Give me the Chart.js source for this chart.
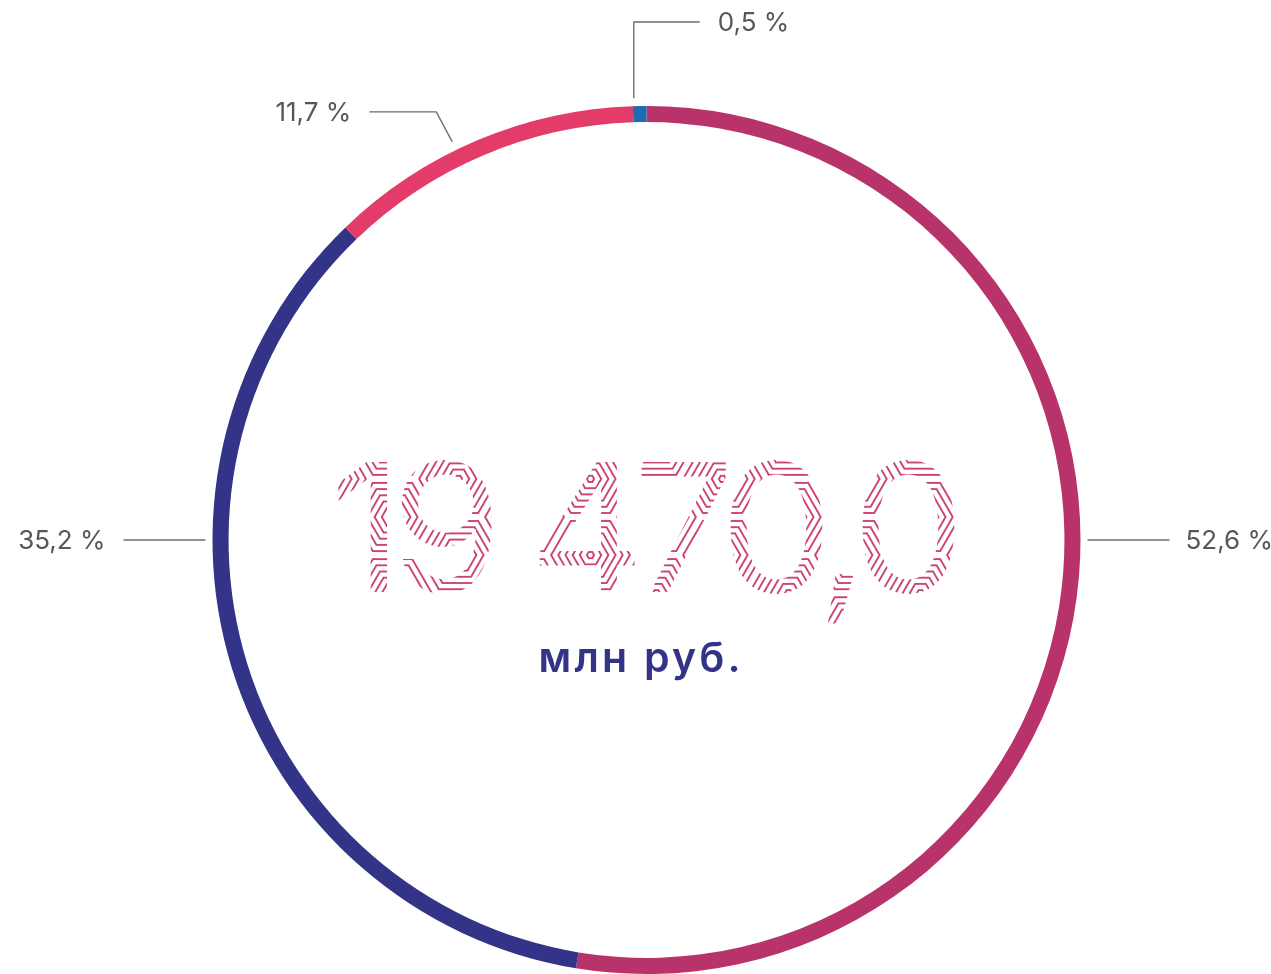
<!DOCTYPE html>
<html lang="ru">
<head>
<meta charset="utf-8">
<title>19 470,0 млн руб.</title>
<script src="https://cdn.jsdelivr.net/npm/chart.js@4.4.1/dist/chart.umd.min.js"></script>
<style>
  html, body { margin: 0; padding: 0; background: #fff; }
  .chart-box { position: relative; width: 1271px; height: 974px; }
</style>
</head>
<body>
<div class="chart-box"><canvas id="structureChart"></canvas></div>
<script>
// Данные диаграммы
const percentLabels = ['52,6 %', '35,2 %', '11,7 %', '0,5 %'];
const percentValues = [52.6, 35.2, 11.7, 0.5];
const segmentColors = ['#b9336b', '#333388', '#e33c68', '#1b6db3'];
const totalText = '19 470,0';
const unitText = 'млн руб.';

const labelFont = '400 26px Inter, "Noto Sans", sans-serif';
const labelColor = '#575757';
const leaderColor = '#6e6e6e';
const hatchColor = [200, 50, 105];

//Подгонка ширины текста через межбуквенный интервал
function fitSpacing(o, text, targetWidth) {
  let m = o.measureText(text);
  if ('letterSpacing' in o) {
    const natural = m.actualBoundingBoxLeft + m.actualBoundingBoxRight;
    o.letterSpacing = ((targetWidth - natural) / (text.length - 1)).toFixed(2) + 'px';
    m = o.measureText(text);
  }
  return m;
}

//Заливка текста узором из концентрических шестиугольников
function drawHatchedText(chart, text, x, y, targetWidth) {
  const ctx = chart.ctx;
  const w = chart.width, h = chart.height;
  const off = document.createElement('canvas');
  off.width = w;
  off.height = h;
  const o = off.getContext('2d');
  o.font = '400 179px Inter, "Noto Sans", sans-serif';
  o.textBaseline = 'alphabetic';
  o.textAlign = 'left';

  const m = fitSpacing(o, text, targetWidth);
  const inkW = m.actualBoundingBoxLeft + m.actualBoundingBoxRight;
  const startX = x - inkW / 2 + m.actualBoundingBoxLeft;

  const x0 = Math.max(0, Math.floor(x - inkW / 2 - 10));
  const x1 = Math.min(w, Math.ceil(x + inkW / 2 + 10));
  const y0 = Math.max(0, Math.floor(y - m.actualBoundingBoxAscent - 10));
  const y1 = Math.min(h, Math.ceil(y + m.actualBoundingBoxDescent + 10));
  const bw = x1 - x0, bh = y1 - y0;
  const img = o.createImageData(bw, bh);

  const s = 44;
  const rowStep = Math.sqrt(3) * s;
  const colStep = 1.5 * s;
  const ox = x + 10, oy = y - 75;
  const period = 6.2, lineW = 1.9;
  const hexNorm = (dx, dy) => {
    const ax = Math.abs(dx), ay = Math.abs(dy);
    return Math.max(ay, (Math.sqrt(3) * ax + ay) / 2);
  };

  for (let j = 0; j < bh; j++) {
    for (let i = 0; i < bw; i++) {
      const px = x0 + i + 0.5 - ox;
      const py = y0 + j + 0.5 - oy;
      const c0 = Math.round(px / colStep);
      let d = Infinity;
      for (let c = c0 - 1; c <= c0 + 1; c++) {
        const shift = (Math.abs(c) % 2) ? rowStep / 2 : 0;
        const r0 = Math.round((py - shift) / rowStep);
        for (let r = r0 - 1; r <= r0 + 1; r++) {
          const dd = hexNorm(px - c * colStep, py - (r * rowStep + shift));
          if (dd < d) d = dd;
        }
      }
      const t = d % period;
      const dist = Math.abs(t - period / 2);
      const a = Math.min(1, Math.max(0, lineW / 2 + 0.5 - dist));
      const k = (j * bw + i) * 4;
      img.data[k] = hatchColor[0];
      img.data[k + 1] = hatchColor[1];
      img.data[k + 2] = hatchColor[2];
      img.data[k + 3] = Math.round(a * 235);
    }
  }
  o.putImageData(img, x0, y0);

  //Оставляем узор только внутри цифр
  o.globalCompositeOperation = 'destination-in';
  o.fillStyle = '#000';
  o.fillText(text, startX, y);

  ctx.save();
  ctx.drawImage(off, 0, 0, w, h);
  ctx.restore();
}

//Подписи с выносками и текст в центре
const ringLabelsPlugin = {
  id: 'ringLabels',
  afterDraw(chart) {
    const ctx = chart.ctx;
    const arc = chart.getDatasetMeta(0).data[0];
    if (!arc) return;
    const cx = arc.x, cy = arc.y, r = arc.outerRadius;
    const polar = (deg, rad) => [
      cx + rad * Math.sin(deg * Math.PI / 180),
      cy - rad * Math.cos(deg * Math.PI / 180)
    ];

    const s2 = polar(334, r + 9);
    const e2 = [s2[0] - 16, s2[1] - 30];
    const s3 = polar(358.35, r + 8);
    const e3 = [s3[0], cy - r - 84];

    const leaders = [
      {pts: [polar(90, r + 7), [cx + r + 89, cy]], tx: cx + r + 105, ty: cy, align: 'left'},
      {pts: [polar(270, r + 7), [cx - r - 89, cy]], tx: cx - r - 107, ty: cy, align: 'right'},
      {pts: [s2, e2, [e2[0] - 67, e2[1]]], tx: e2[0] - 85, ty: e2[1], align: 'right'},
      {pts: [s3, e3, [e3[0] + 66, e3[1]]], tx: e3[0] + 84, ty: e3[1], align: 'left'}
    ];

    ctx.save();
    ctx.strokeStyle = leaderColor;
    ctx.lineWidth = 1.4;
    ctx.font = labelFont;
    ctx.fillStyle = labelColor;
    ctx.textBaseline = 'middle';
    leaders.forEach((l, i) => {
      ctx.beginPath();
      ctx.moveTo(l.pts[0][0], l.pts[0][1]);
      for (let p = 1; p < l.pts.length; p++) {
        ctx.lineTo(l.pts[p][0], l.pts[p][1]);
      }
      ctx.stroke();
      ctx.textAlign = l.align;
      ctx.fillText(percentLabels[i], l.tx, l.ty + 1);
    });

    //Единицы измерения
    ctx.font = '600 41px Inter, "Noto Sans", sans-serif';
    ctx.fillStyle = '#333388';
    ctx.textAlign = 'left';
    ctx.textBaseline = 'alphabetic';
    const um = fitSpacing(ctx, unitText, 197);
    ctx.fillText(unitText, cx - 106 + um.actualBoundingBoxLeft, cy + 132);
    if ('letterSpacing' in ctx) ctx.letterSpacing = '0px';
    ctx.restore();

    drawHatchedText(chart, totalText, cx, cy + 52, 617);
  }
};

new Chart(document.getElementById('structureChart'), {
  type: 'doughnut',
  data: {
    labels: percentLabels,
    datasets: [{
      data: percentValues,
      backgroundColor: segmentColors,
      borderWidth: 0,
      hoverOffset: 0
    }]
  },
  options: {
    responsive: true,
    maintainAspectRatio: false,
    animation: false,
    cutout: '96.3%',
    rotation: 0,
    layout: {
      padding: {left: 212, right: 190, top: 106, bottom: 0}
    },
    events: [],
    plugins: {
      legend: {display: false},
      tooltip: {enabled: false}
    }
  },
  plugins: [ringLabelsPlugin]
});
</script>
</body>
</html>
